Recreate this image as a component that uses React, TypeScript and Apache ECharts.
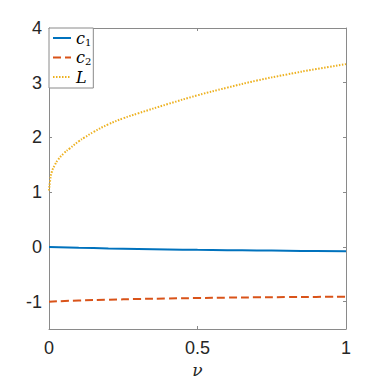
import React, { useEffect, useRef } from "react";
import * as echarts from "echarts";

const nuC = [0, 0.1, 0.2, 0.3, 0.4, 0.5, 0.6, 0.7, 0.8, 0.9, 1];
const c1Values = [0, -0.015, -0.028, -0.038, -0.046, -0.053, -0.059, -0.065, -0.07, -0.075, -0.08];
const c2Values = [-1, -0.98, -0.965, -0.952, -0.942, -0.934, -0.927, -0.921, -0.917, -0.913, -0.91];
const nuL = [0, 0.004, 0.01, 0.02, 0.03, 0.05, 0.07, 0.1, 0.12, 0.15, 0.2, 0.25, 0.3, 0.4, 0.5, 0.6, 0.7, 0.8, 0.9, 1];
const lValues = [1.03, 1.22, 1.38, 1.5, 1.59, 1.71, 1.8, 1.93, 2.0, 2.1, 2.24, 2.35, 2.44, 2.61, 2.77, 2.91, 3.04, 3.15, 3.25, 3.34];
const yTicks = [-1, 0, 1, 2, 3, 4];
const xTicks = [0, 0.5, 1];
const seriesNames = ["c1", "c2", "L"];
const legendLabels: Record<string, string> = {
  c1: "{i|c}{s|1}",
  c2: "{i|c}{s|2}",
  L: "{i|L}",
};

const pair = (xs: number[], ys: number[]) => xs.map((x, i) => [x, ys[i]]);

export default function App() {
  const ref = useRef<HTMLDivElement>(null);
  useEffect(() => {
    if (!ref.current) return;
    const chart = echarts.init(ref.current, undefined, { renderer: "svg" });
    const axisColor = "#8a8a8a";
    const labelColor = "#262626";
    const axisLabel = { color: labelColor, fontFamily: "Liberation Sans", fontSize: 18 };
    chart.setOption({
      animation: false,
      backgroundColor: "#ffffff",
      grid: { left: 49, right: 36, top: 28, bottom: 53, containLabel: false, outerBoundsMode: "none" },
      legend: {
        data: seriesNames,
        orient: "vertical",
        left: 49,
        top: 28,
        padding: [2, 2, 3, 3],
        itemGap: 2.5,
        itemWidth: 18,
        itemHeight: 10,
        borderColor: axisColor,
        borderWidth: 1,
        backgroundColor: "#ffffff",
        itemStyle: { opacity: 0 },
        formatter: (name: string) => legendLabels[name],
        textStyle: {
          rich: {
            i: { fontFamily: "DejaVu Serif", fontStyle: "italic", fontSize: 16, color: "#000", lineHeight: 18, verticalAlign: "middle" },
            s: { fontFamily: "DejaVu Serif", fontSize: 10, color: "#000", lineHeight: 18, verticalAlign: "bottom", padding: [6, 0, 0, 0] },
          },
        },
      },
      xAxis: [
        {
          type: "value",
          min: 0,
          max: 1,
          interval: 0.5,
          name: "ν",
          nameLocation: "middle",
          nameGap: 32,
          nameTextStyle: { fontFamily: "DejaVu Serif", fontStyle: "italic", fontSize: 17, color: labelColor },
          axisLine: { onZero: false, lineStyle: { color: axisColor, width: 1 } },
          axisTick: { inside: true, length: 3, lineStyle: { color: axisColor } },
          axisLabel: { ...axisLabel, margin: 10, formatter: (v: number) => String(v), customValues: xTicks },
          splitLine: { show: false },
        },
        {
          type: "value",
          position: "top",
          min: 0,
          max: 1,
          interval: 0.5,
          axisLine: { onZero: false, lineStyle: { color: axisColor, width: 1 } },
          axisTick: { inside: true, length: 3, lineStyle: { color: axisColor } },
          axisLabel: { show: false },
          splitLine: { show: false },
        },
      ],
      yAxis: [
        {
          type: "value",
          min: -1.5,
          max: 4,
          axisLine: { onZero: false, lineStyle: { color: axisColor, width: 1 } },
          axisTick: { inside: true, length: 3, lineStyle: { color: axisColor }, customValues: yTicks },
          axisLabel: { ...axisLabel, margin: 7, customValues: yTicks },
          splitLine: { show: false },
        },
        {
          type: "value",
          position: "right",
          min: -1.5,
          max: 4,
          axisLine: { onZero: false, lineStyle: { color: axisColor, width: 1 } },
          axisTick: { inside: true, length: 3, lineStyle: { color: axisColor }, customValues: yTicks },
          axisLabel: { show: false, customValues: yTicks },
          splitLine: { show: false },
        },
      ],
      series: [
        {
          name: "c1",
          type: "line",
          data: pair(nuC, c1Values),
          showSymbol: false,
          symbol: "none",
          smooth: true,
          lineStyle: { color: "#0072BD", width: 2 },
          itemStyle: { color: "#0072BD" },
        },
        {
          name: "c2",
          type: "line",
          data: pair(nuC, c2Values),
          showSymbol: false,
          symbol: "none",
          smooth: true,
          lineStyle: { color: "#D95319", width: 2, type: [8, 4] },
          itemStyle: { color: "#D95319" },
        },
        {
          name: "L",
          type: "line",
          data: pair(nuL, lValues),
          showSymbol: false,
          symbol: "none",
          smooth: true,
          lineStyle: { color: "#EDB120", width: 2, type: [1.5, 1.5] },
          itemStyle: { color: "#EDB120" },
        },
      ],
    });
    return () => chart.dispose();
  }, []);
  return <div ref={ref} style={{ width: 382, height: 382, position: "absolute", left: 0, top: 0 }} />;
}
